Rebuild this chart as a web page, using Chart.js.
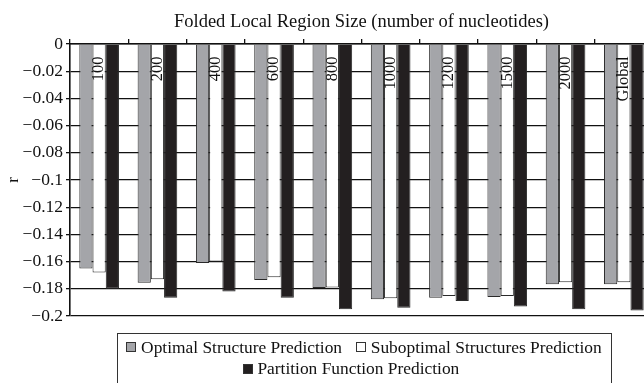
<!DOCTYPE html>
<html>
<head>
<meta charset="utf-8">
<script src="https://cdn.jsdelivr.net/npm/chart.js@4"></script>
<style>
  html, body { margin: 0; padding: 0; background: #fff; overflow: hidden; }
  #wrap { position: relative; width: 653px; height: 383px; }
</style>
</head>
<body>
<div id="wrap"><canvas id="chart" width="653" height="383"></canvas></div>
<script>
const regionSizes = ['100', '200', '400', '600', '800', '1000', '1200', '1500', '2000', 'Global'];
const optimalValues    = [-0.165, -0.1755, -0.161, -0.1735, -0.1795, -0.1877, -0.1865, -0.186, -0.1767, -0.1767];
const suboptimalValues = [-0.168, -0.173, -0.16, -0.1715, -0.179, -0.187, -0.1853, -0.1853, -0.1752, -0.1752];
const partitionValues  = [-0.18, -0.1865, -0.182, -0.1865, -0.195, -0.194, -0.189, -0.193, -0.195, -0.196];
const yTickValues = [0, -0.02, -0.04, -0.06, -0.08, -0.1, -0.12, -0.14, -0.16, -0.18, -0.2];
const seriesNames = ['Optimal Structure Prediction', 'Suboptimal Structures Prediction', 'Partition Function Prediction'];

const SERIF = '"Liberation Serif", "Times New Roman", serif';
const INK = '#111';
Chart.defaults.font.family = SERIF;
Chart.defaults.color = INK;

function fmtTick(v) {
  if (Math.abs(v) < 1e-9) return '0';
  return '\u2212' + parseFloat(Math.abs(v).toFixed(2)).toString();
}

// region size labels, rotated, inside the plot near the top
const regionLabels = {
  id: 'regionLabels',
  afterDatasetsDraw(chart) {
    const ctx = chart.ctx, xs = chart.scales.x, top = chart.chartArea.top;
    ctx.save();
    ctx.font = '16.5px ' + SERIF;
    ctx.fillStyle = INK;
    ctx.textAlign = 'right';
    ctx.textBaseline = 'middle';
    regionSizes.forEach((lab, i) => {
      ctx.save();
      ctx.translate(xs.getPixelForValue(i), top + 12.5);
      ctx.rotate(-Math.PI / 2);
      ctx.fillText(lab, 0, 0);
      ctx.restore();
    });
    ctx.restore();
  }
};

// boxed legend, two rows
const boxLegend = {
  id: 'boxLegend',
  afterDraw(chart) {
    const ctx = chart.ctx;
    const box = { left: 117, top: 333, right: 611, bottom: 400 };
    const rows = [[0, 1], [2]];
    const rowY = [348.3, 369.8];
    const rowShift = [0, -13];
    const sq = 10, gap = 4.7, spacing = 14;
    ctx.save();
    ctx.strokeStyle = '#333';
    ctx.lineWidth = 1;
    ctx.strokeRect(box.left + 0.5, box.top + 0.5, box.right - box.left, box.bottom - box.top);
    ctx.font = '17.4px ' + SERIF;
    ctx.textBaseline = 'middle';
    ctx.textAlign = 'left';
    rows.forEach((row, r) => {
      const widths = row.map(i => sq + gap + ctx.measureText(seriesNames[i]).width);
      const total = widths.reduce((a, b) => a + b, 0) + spacing * (row.length - 1);
      let x = (box.left + box.right) / 2 - total / 2 + rowShift[r];
      row.forEach((i, k) => {
        const ds = chart.data.datasets[i];
        const y = rowY[r];
        ctx.fillStyle = ds.backgroundColor;
        ctx.fillRect(Math.round(x), Math.round(y - 6), sq, sq);
        ctx.strokeStyle = '#333';
        ctx.strokeRect(Math.round(x) + 0.5, Math.round(y - 6) + 0.5, sq - 1, sq - 1);
        ctx.fillStyle = INK;
        ctx.fillText(seriesNames[i], x + sq + gap, y);
        x += widths[k] + spacing;
      });
    });
    ctx.restore();
  }
};

new Chart(document.getElementById('chart'), {
  type: 'bar',
  data: {
    labels: regionSizes,
    datasets: [
      { label: seriesNames[0], data: optimalValues, backgroundColor: '#a4a5a9' },
      { label: seriesNames[1], data: suboptimalValues, backgroundColor: '#ffffff' },
      { label: seriesNames[2], data: partitionValues, backgroundColor: '#231f20' }
    ]
  },
  options: {
    responsive: false,
    animation: false,
    layout: { padding: { bottom: 67 } },
    datasets: {
      bar: { borderColor: '#2a2a2a', borderWidth: 1, categoryPercentage: 0.68, barPercentage: 1 }
    },
    plugins: {
      legend: { display: false },
      tooltip: { enabled: false }
    },
    scales: {
      x: {
        position: 'top',
        offset: true,
        grid: { drawOnChartArea: false, drawTicks: true, tickLength: 5, color: '#111', lineWidth: 1.3, offset: true },
        border: { display: true, color: '#111', width: 1.6, z: 1 },
        ticks: { display: false },
        title: {
          display: true,
          text: 'Folded Local Region Size (number of nucleotides)',
          font: { size: 18.5 },
          color: INK,
          padding: { top: 11, bottom: 0 }
        },
        afterFit: s => { s.height = 44; }
      },
      y: {
        min: -0.2,
        max: 0,
        afterBuildTicks: s => { s.ticks = yTickValues.slice().sort((a, b) => a - b).map(v => ({ value: v })); },
        ticks: { callback: v => fmtTick(v), font: { size: 17.5 }, color: INK, padding: 3 },
        grid: { color: '#111', lineWidth: 1.3, tickLength: 4, drawTicks: true },
        border: { display: true, color: '#111', width: 1.6, z: 1 },
        title: {
          display: true,
          text: 'r',
          font: { size: 17 },
          color: INK,
          padding: { top: 3, bottom: 0 }
        },
        afterFit: s => { s.width = 70; }
      }
    }
  },
  plugins: [regionLabels, boxLegend]
});
</script>
</body>
</html>
